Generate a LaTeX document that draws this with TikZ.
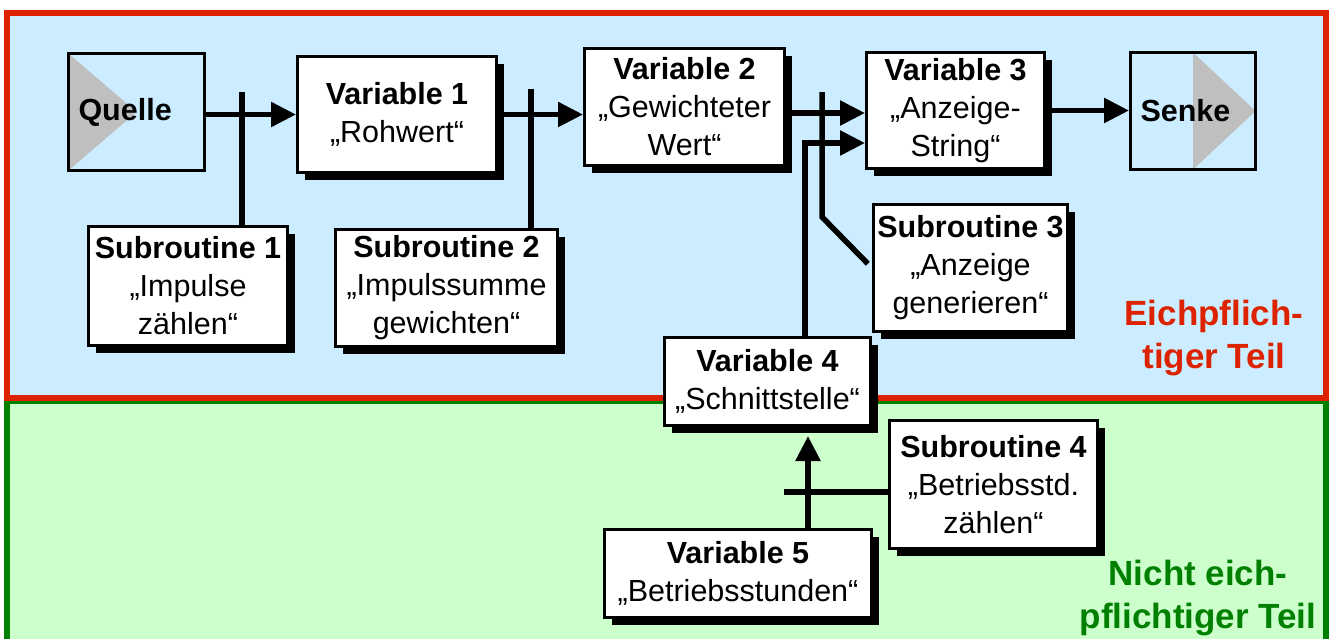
\documentclass[tikz,border=0pt]{standalone}
\usepackage{fontspec}
\setmainfont{Liberation Sans}
\usetikzlibrary{arrows.meta,shadows}

\definecolor{eichblue}{HTML}{CCECFF}
\definecolor{nichtgreen}{HTML}{CCFFCC}
\definecolor{eichred}{HTML}{DD2200}
\definecolor{darkgreen}{HTML}{008000}

\begin{document}
\begin{tikzpicture}[x=1pt, y=-1pt]
\tikzset{
	    mynode/.style={rectangle, align=center, draw=black, fill=white, line width=3pt, inner sep=1pt, font=\fontsize{30.5}{38}\selectfont, drop shadow={shadow xshift=7pt, shadow yshift=-7pt, fill=black, opacity=1}},
	    endnode/.style={rectangle, align=left, draw=black, fill=eichblue, line width=3pt, inner xsep=10pt, inner ysep=1pt, font=\fontsize{30.5}{38}\selectfont\bfseries},
	    myarrow/.style={-{Triangle[length=25pt, width=24pt]}, line width=5.5pt},
	    myline/.style={line width=5.5pt},
	    mylabel/.style={align=center, font=\fontsize{35}{43}\selectfont\bfseries}
	}
	\useasboundingbox (0,0) rectangle (1330,638);
	% the two parts
	\draw[line width=6pt, draw=darkgreen, fill=nichtgreen] (7,401) rectangle (1326,650);
	\draw[line width=6pt, draw=eichred, fill=eichblue] (7,13) rectangle (1326,398);

	\node[endnode, minimum width=134pt, minimum height=117pt, text width=116pt,
	    path picture={\fill[gray!50] (path picture bounding box.north west) -- (path picture bounding box.center) -- (path picture bounding box.south west) -- cycle;}]
	    (quelle) at (136.5,112) {Quelle};
	\node[endnode, minimum width=125pt, minimum height=117pt, text width=105pt,
	    path picture={\fill[gray!50] (path picture bounding box.north) -- (path picture bounding box.east) -- (path picture bounding box.south) -- cycle;}]
	    (senke) at (1193,111) {Senke};

	\node[mynode, minimum width=199pt, minimum height=116pt] (var1) at (397,114.5) {\textbf{Variable 1}\\„Rohwert“};
	\node[mynode, minimum width=200pt, minimum height=117pt] (var2) at (684.5,107) {\textbf{Variable 2}\\„Gewichteter\\Wert“};
	\node[mynode, minimum width=178pt, minimum height=116pt] (var3) at (955.5,110.5) {\textbf{Variable 3}\\„Anzeige-\\String“};
	\node[mynode, minimum width=206pt, minimum height=88pt] (var4) at (767.5,381.5) {\textbf{Variable 4}\\„Schnittstelle“};
	\node[mynode, minimum width=267pt, minimum height=88pt] (var5) at (738,573.5) {\textbf{Variable 5}\\„Betriebsstunden“};

	\node[mynode, minimum width=199pt, minimum height=119pt] (sub1) at (188,286) {\textbf{Subroutine 1}\\„Impulse\\zählen“};
	\node[mynode, minimum width=222pt, minimum height=117pt] (sub2) at (446.5,288) {\textbf{Subroutine 2}\\„Impulssumme\\gewichten“};
	\node[mynode, minimum width=194pt, minimum height=127pt] (sub3) at (970.5,268) {\textbf{Subroutine 3}\\„Anzeige\\generieren“};
	\node[mynode, minimum width=208pt, minimum height=128pt] (sub4) at (993.5,484.5) {\textbf{Subroutine 4}\\„Betriebsstd.\\zählen“};

	\node[mylabel, text=eichred, anchor=base] (eichlabel) at (1214,368) {Eichpflich-\\tiger Teil};
	\node[mylabel, text=darkgreen, anchor=base] (nichtlabel) at (1198,628) {Nicht eich-\\pflichtiger Teil};

	% data flow
	\draw[myarrow] (quelle.east |- var1.west) -- (var1.west);
	\draw[myarrow] (var1.east) -- (var1.east -| var2.west);
	\draw[myarrow] ([yshift=-6pt]var2.east) -- ([yshift=-6pt]var2.east -| var3.west);
	\draw[myarrow] (var3.east) -- (var3.east -| senke.west);
	\draw[myarrow] ([xshift=37.5pt]var4.north) |- ([yshift=-32.5pt]var3.west);
	\draw[myarrow, shorten >=9pt] ([xshift=70pt]var5.north) -- ([xshift=70pt]var5.north |- var4.south);

	% subroutines
	\coordinate (s1top) at (242,92);
	\coordinate (s2top) at (531,89);
	\coordinate (s3top) at (822,92);
	\coordinate (s3bend) at (822,217);
	\coordinate (s4end) at (784,492);
	\draw[myline] (s1top) -- (s1top |- sub1.north);
	\draw[myline] (s2top) -- (s2top |- sub2.north);
	\draw[myline, shorten >=6pt] (s3top) -- (s3bend) -- (sub3.west);
	\draw[myline] (s4end) -- (s4end -| sub4.west);

\end{tikzpicture}
\end{document}
